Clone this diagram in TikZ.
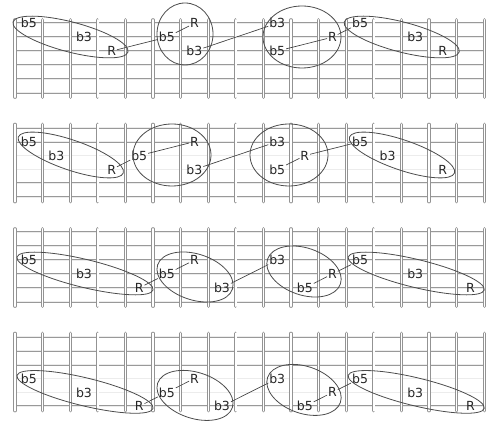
\documentclass[tikz,border=0pt]{standalone}
\usepackage{fontspec}
\setmainfont{DejaVu Sans}
\begin{document}
\begin{tikzpicture}[x=1pt,y=-1pt,
  fret/.style={draw=gray!85, double=white, line width=0.9pt, double distance=1.4pt, line cap=round},
  gstring/.style={draw=gray!80, double=gray!15, line width=0.55pt, double distance=0.7pt},
  note/.style={inner sep=0.8pt, font=\fontsize{12.5}{12.5}\selectfont, text=black!85},
  link/.style={draw=black!75, line width=0.65pt},
  loop/.style={draw=black!70, line width=0.8pt}]
\useasboundingbox (0,0) rectangle (500,430);
% fretboards
\foreach \yo in {23.3,127.8,232.3,336.8}{
  \foreach \j in {0,...,5} \draw[gstring] (15,{\yo+13.9*\j}) -- (484.2,{\yo+13.9*\j});
  \foreach \k in {0,...,17} \draw[fret] ({15+27.6*\k},{\yo-3.5}) -- ({15+27.6*\k},{\yo+74});
}
% diagram 1
\node[note] (a1) at (28.8,23.3) {b5};
\node[note] (a2) at (84,37.2) {b3};
\node[note] (a3) at (111.6,51.1) {R};
\node[note] (a4) at (166.8,37.2) {b5};
\node[note] (a5) at (194.4,23.3) {R};
\node[note] (a6) at (194.4,51.1) {b3};
\node[note] (a7) at (277.2,23.3) {b3};
\node[note] (a8) at (277.2,51.1) {b5};
\node[note] (a9) at (332.4,37.2) {R};
\node[note] (a10) at (360,23.3) {b5};
\node[note] (a11) at (415.2,37.2) {b3};
\node[note] (a12) at (442.8,51.1) {R};
\draw[link] (a3) -- (a4); \draw[link] (a4) -- (a5); \draw[link] (a6) -- (a7);
\draw[link] (a8) -- (a9); \draw[link] (a9) -- (a10);
\draw[loop, rotate around={-14.6:(70.5,37)}] (70.5,37) ellipse [x radius=59.4, y radius=15];
\draw[loop] (185,34) ellipse [x radius=28, y radius=31];
\draw[loop] (302,37) ellipse [x radius=39, y radius=31];
\draw[loop, rotate around={-14.6:(401.7,37)}] (401.7,37) ellipse [x radius=59.4, y radius=15];
% diagram 2
\node[note] (b1) at (28.8,141.7) {b5};
\node[note] (b2) at (56.4,155.6) {b3};
\node[note] (b3) at (111.6,169.5) {R};
\node[note] (b4) at (139.2,155.6) {b5};
\node[note] (b5) at (194.4,141.7) {R};
\node[note] (b6) at (194.4,169.5) {b3};
\node[note] (b7) at (277.2,141.7) {b3};
\node[note] (b8) at (304.8,155.6) {R};
\node[note] (b9) at (277.2,169.5) {b5};
\node[note] (b10) at (360,141.7) {b5};
\node[note] (b11) at (387.6,155.6) {b3};
\node[note] (b12) at (442.8,169.5) {R};
\draw[link] (b3) -- (b4); \draw[link] (b4) -- (b5); \draw[link] (b6) -- (b7);
\draw[link] (b9) -- (b8); \draw[link] (b8) -- (b10);
\draw[loop, rotate around={-18.9:(70.8,155)}] (70.8,155) ellipse [x radius=55.5, y radius=15];
\draw[loop] (172,155) ellipse [x radius=39, y radius=31];
\draw[loop] (289,155) ellipse [x radius=39, y radius=31];
\draw[loop, rotate around={-18.9:(402,155)}] (402,155) ellipse [x radius=55.5, y radius=15];
% diagram 3
\node[note] (c1) at (28.8,260.1) {b5};
\node[note] (c2) at (84,274) {b3};
\node[note] (c3) at (139.2,287.9) {R};
\node[note] (c4) at (166.8,274) {b5};
\node[note] (c5) at (194.4,260.1) {R};
\node[note] (c6) at (222,287.9) {b3};
\node[note] (c7) at (277.2,260.1) {b3};
\node[note] (c8) at (332.4,274) {R};
\node[note] (c9) at (304.8,287.9) {b5};
\node[note] (c10) at (360,260.1) {b5};
\node[note] (c11) at (415.2,274) {b3};
\node[note] (c12) at (470.4,287.9) {R};
\draw[link] (c3) -- (c4); \draw[link] (c4) -- (c5); \draw[link] (c6) -- (c7);
\draw[link] (c9) -- (c8); \draw[link] (c8) -- (c10);
\draw[loop, rotate around={-13.6:(85,273.5)}] (85,273.5) ellipse [x radius=70, y radius=14];
\draw[loop, rotate around={-18:(195,277)}] (195,277) ellipse [x radius=39.3, y radius=23];
\draw[loop, rotate around={-19:(304,271.5)}] (304,271.5) ellipse [x radius=38.5, y radius=23.5];
\draw[loop, rotate around={-13.6:(416.2,273.5)}] (416.2,273.5) ellipse [x radius=70, y radius=14];
% diagram 4
\node[note] (d1) at (28.8,378.5) {b5};
\node[note] (d2) at (84,392.4) {b3};
\node[note] (d3) at (139.2,406.3) {R};
\node[note] (d4) at (166.8,392.4) {b5};
\node[note] (d5) at (194.4,378.5) {R};
\node[note] (d6) at (222,406.3) {b3};
\node[note] (d7) at (277.2,378.5) {b3};
\node[note] (d8) at (332.4,392.4) {R};
\node[note] (d9) at (304.8,406.3) {b5};
\node[note] (d10) at (360,378.5) {b5};
\node[note] (d11) at (415.2,392.4) {b3};
\node[note] (d12) at (470.4,406.3) {R};
\draw[link] (d3) -- (d4); \draw[link] (d4) -- (d5); \draw[link] (d6) -- (d7);
\draw[link] (d9) -- (d8); \draw[link] (d8) -- (d10);
\draw[loop, rotate around={-13.6:(85,391.9)}] (85,391.9) ellipse [x radius=70, y radius=14];
\draw[loop, rotate around={-18:(195,395.4)}] (195,395.4) ellipse [x radius=39.3, y radius=23];
\draw[loop, rotate around={-19:(304,389.9)}] (304,389.9) ellipse [x radius=38.5, y radius=23.5];
\draw[loop, rotate around={-13.6:(416.2,391.9)}] (416.2,391.9) ellipse [x radius=70, y radius=14];
\end{tikzpicture}
\end{document}
